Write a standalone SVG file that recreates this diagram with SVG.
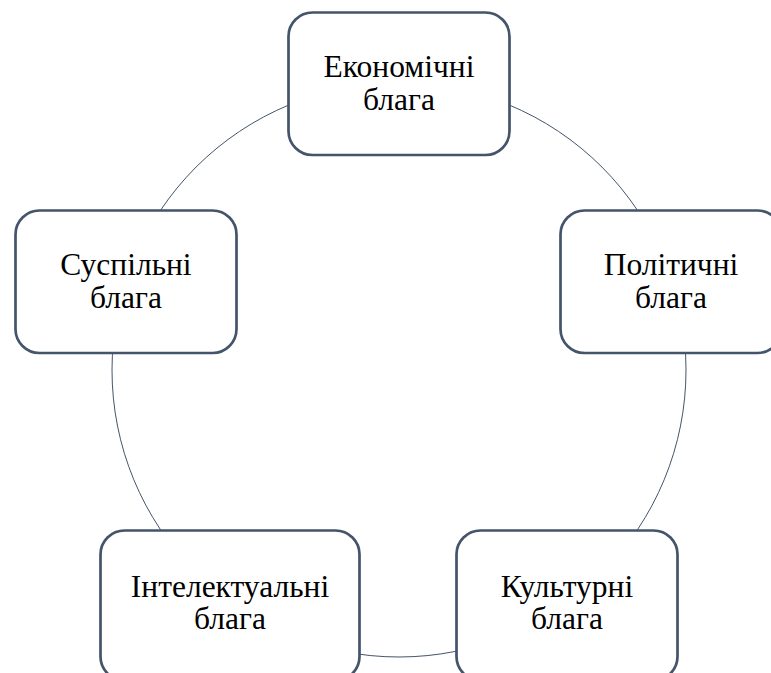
<svg xmlns="http://www.w3.org/2000/svg" width="771" height="673" viewBox="0 0 771 673">
<style>
.box{fill:#ffffff;stroke:#44546A;stroke-width:2.7}
.conn{fill:none;stroke:#44546A;stroke-width:1}
.t{font-size:31.5px;fill:#000;text-anchor:middle}
</style>
<rect width="771" height="673" fill="#ffffff"/>
<g id="connectors">
<circle class="conn" cx="399" cy="370" r="287"/>
</g>
<g font-family="'Liberation Serif', 'DejaVu Serif', serif">
<g id="economic">
<rect class="box" x="288.5" y="12.5" width="221" height="142.5" rx="24"/>
<text class="t" x="399" y="77">Економічні</text>
<text class="t" x="399" y="110">блага</text>
</g>
<g id="political">
<rect class="box" x="560.5" y="210.5" width="221" height="142.5" rx="24"/>
<text class="t" x="671" y="275">Політичні</text>
<text class="t" x="671" y="308">блага</text>
</g>
<g id="cultural">
<rect class="box" x="456.5" y="530.5" width="221" height="150" rx="24"/>
<text class="t" x="567" y="597">Культурні</text>
<text class="t" x="567" y="629">блага</text>
</g>
<g id="intellectual">
<rect class="box" x="100.5" y="530.5" width="259" height="150" rx="24"/>
<text class="t" x="230" y="597">Інтелектуальні</text>
<text class="t" x="230" y="629">блага</text>
</g>
<g id="social">
<rect class="box" x="15.5" y="210.5" width="221" height="142.5" rx="24"/>
<text class="t" x="126" y="275">Суспільні</text>
<text class="t" x="126" y="308">блага</text>
</g>
</g>
</svg>
